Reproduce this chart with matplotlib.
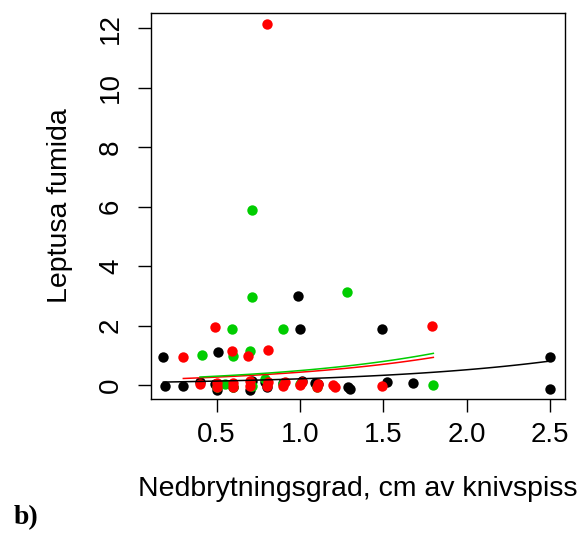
import matplotlib
matplotlib.use('Agg')
import matplotlib.pyplot as plt
import numpy as np

plt.rcParams['font.family'] = ['Liberation Sans', 'DejaVu Sans']

# punkter lest av figuren (svart, gronn, rod gruppe)
black_x = [0.18, 0.19, 0.30, 0.40, 0.50, 0.51, 0.49, 0.60, 0.70, 0.71, 0.79, 0.80, 0.90,
           0.99, 1.00, 1.01, 1.09, 1.11, 1.29, 1.30, 1.49, 1.52, 1.68, 2.50, 2.50]
black_y = [0.94, -0.03, -0.03, 0.10, -0.17, 1.11, 0.05, -0.05, -0.17, 0.13, 0.10, -0.05, 0.07,
           3.00, 1.89, 0.13, 0.07, 0.02, -0.05, -0.13, 1.89, 0.10, 0.07, 0.94, -0.13]

green_x = [0.41, 0.50, 0.55, 0.59, 0.60, 0.60, 0.70, 0.71, 0.71, 0.71, 0.79, 0.90, 0.90,
           1.00, 1.10, 1.28, 1.80]
green_y = [1.01, -0.05, 0.02, 1.89, 0.98, -0.05, 1.14, 5.89, 2.96, -0.03, 0.20, 1.89, 0.03,
           0.05, -0.08, 3.13, 0.00]

red_x = [0.30, 0.40, 0.49, 0.50, 0.50, 0.59, 0.60, 0.60, 0.69, 0.70, 0.70, 0.80, 0.81,
         0.80, 0.81, 0.90, 0.91, 1.00, 1.01, 1.10, 1.11, 1.20, 1.21, 1.49, 1.79]
red_y = [0.94, 0.03, 1.95, 0.07, -0.05, 1.14, 0.07, -0.08, 0.98, 0.13, -0.03, 12.15, 1.18,
         -0.03, 0.10, -0.02, 0.10, 0.00, 0.10, -0.07, 0.03, 0.00, -0.05, -0.03, 1.99]

# tilpassede kurver, log-link: y = exp(b0 + b1*x), over x-omraadet til hver gruppe
fits = {
    'black': (-2.465, 0.90, 0.18, 2.50),
    'red': (-1.80, 0.96, 0.30, 1.80),
    'green': (-1.70, 0.98, 0.40, 1.80),
}
GREEN = '#00CD00'
RED = '#FF0000'

fig = plt.figure(figsize=(5.88, 5.35), dpi=100)
ax = fig.add_axes([151 / 588, 136 / 535, 414 / 588, 386 / 535])

ms = 56
ax.scatter(black_x, black_y, s=ms, color='black', linewidths=0, zorder=3)
ax.scatter(green_x, green_y, s=ms, color=GREEN, linewidths=0, zorder=3)
ax.scatter(red_x, red_y, s=ms, color=RED, linewidths=0, zorder=3)

for name, color in [('black', 'black'), ('red', RED), ('green', GREEN)]:
    b0, b1, x0, x1 = fits[name]
    xs = np.linspace(x0, x1, 100)
    ax.plot(xs, np.exp(b0 + b1 * xs), color=color, linewidth=1.1, zorder=4)

ax.set_xlim(0.106, 2.59)
ax.set_ylim(-0.47, 12.52)
ax.set_xticks([0.5, 1.0, 1.5, 2.0, 2.5])
ax.set_xticklabels(['0.5', '1.0', '1.5', '2.0', '2.5'])
ax.set_yticks([0, 2, 4, 6, 8, 10, 12])
ax.tick_params(axis='both', direction='out', length=9.5, width=1, labelsize=20)
ax.tick_params(axis='x', pad=7)
ax.tick_params(axis='y', pad=10)
for lab in ax.get_yticklabels():
    lab.set_rotation(90)
    lab.set_va('center')
for sp in ax.spines.values():
    sp.set_linewidth(1)

ax.set_xlabel('Nedbrytningsgrad, cm av knivspiss', fontsize=20.5, labelpad=20)
ax.set_ylabel('Leptusa fumida', fontsize=20.5, labelpad=18)

fig.text(14 / 588, 1 - 518 / 535, 'b)', fontsize=20, fontweight='bold',
         family=['Liberation Serif', 'DejaVu Serif'], va='center', ha='left')

fig.savefig('out.png', dpi=100)
